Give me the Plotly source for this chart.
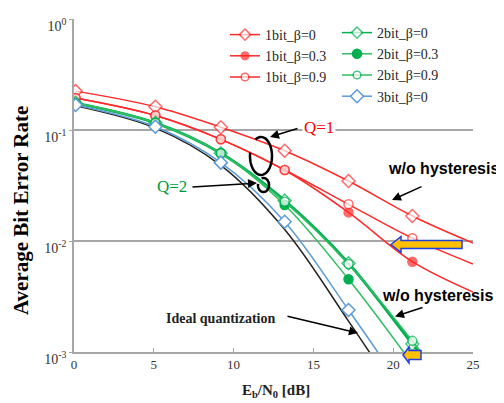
import math
import plotly.graph_objects as go

# ---------------- data ----------------
ebn0 = [0.1, 5.1, 9.2, 13.2, 17.2, 21.2]
ebn0_red = [0.1, 5.1, 9.2, 13.2, 17.2, 21.2, 25.0]
ebn0_grn = [0.1, 5.1, 9.2, 13.2, 17.2, 21.2, 22.0]

ber_1bit_b0 = [0.224, 0.162, 0.106, 0.0651, 0.0347, 0.0168, 0.0096]
ber_1bit_b03 = [0.194, 0.135, 0.0824, 0.0436, 0.0181, 0.00651, 0.00347]
ber_1bit_b09 = [0.194, 0.135, 0.0824, 0.0436, 0.0214, 0.0106, 0.0062]
ber_2bit_b0 = [0.175, 0.116, 0.0617, 0.0231, 0.0063, 0.00118, 0.00085]
ber_2bit_b03 = [0.175, 0.116, 0.0617, 0.0211, 0.00452, 0.00078]
ber_2bit_b09 = [0.175, 0.116, 0.0617, 0.0226, 0.0062, 0.00126, 0.0009]
ber_3bit_b0 = [0.168, 0.107, 0.0508, 0.0149, 0.00239, 0.00035]
ber_ideal = [0.165, 0.104, 0.048, 0.0127, 0.0019, 0.00026]

ytick_vals = [1, 0.1, 0.01, 0.001]
ytick_text = ["10<sup>0</sup>", "10<sup>-1</sup>", "10<sup>-2</sup>", "10<sup>-3</sup>"]
xtick_vals = [0, 5, 10, 15, 20, 25]

# ---------------- layout helpers ----------------
OFF = 8  # default body margin of the html page
W, H = 504 - OFF, 403 - OFF
L, R, T, B = 74 - OFF, 31, 19 - OFF, 51
PW, PH = W - L - R, H - T - B


def px(x):
    return (x - OFF - L) / PW


def py(y):
    return (H - B - (y - OFF)) / PH


RED = "#FF2A2A"
GRN = "#00B050"
GRN2 = "#2EBE62"
BLU = "#5B9BD5"
SERIF = "Liberation Serif, Times New Roman, serif"
SANS = "Liberation Sans, Arial, sans-serif"


def msizes(n, k, s):
    return [s] * k + [0] * (n - k)


fig = go.Figure()

fig.add_trace(go.Scatter(x=ebn0, y=ber_ideal, mode="lines", line=dict(color="#222222", width=1.5, shape="spline"),
                         showlegend=False, hoverinfo="skip"))

# 1 bit
fig.add_trace(go.Scatter(x=ebn0_red, y=ber_1bit_b0, name="1bit_β=0", mode="lines+markers", legend="legend",
                         line=dict(color=RED, width=1.5, shape="spline"),
                         marker=dict(symbol="diamond", size=msizes(7, 6, 10), color="white",
                                     line=dict(color=RED, width=1.5))))
fig.add_trace(go.Scatter(x=ebn0_red, y=ber_1bit_b03, name="1bit_β=0.3", mode="lines+markers", legend="legend",
                         line=dict(color=RED, width=1.5, shape="spline"),
                         marker=dict(symbol="circle", size=msizes(7, 6, 9), color=RED,
                                     line=dict(color=RED, width=1.5))))
fig.add_trace(go.Scatter(x=ebn0_red, y=ber_1bit_b09, name="1bit_β=0.9", mode="lines+markers", legend="legend",
                         line=dict(color=RED, width=1.5, shape="spline"),
                         marker=dict(symbol="circle", size=msizes(7, 6, 9), color="white",
                                     line=dict(color=RED, width=1.5))))
# 2 bit (thick "w/o hysteresis" curve underneath)
fig.add_trace(go.Scatter(x=ebn0_grn, y=ber_2bit_b0, mode="lines", showlegend=False, hoverinfo="skip",
                         line=dict(color=GRN, width=2.8, shape="spline")))
fig.add_trace(go.Scatter(x=ebn0_grn, y=ber_2bit_b0, name="2bit_β=0", mode="lines+markers", legend="legend2",
                         line=dict(color=GRN, width=1.5, shape="spline"),
                         marker=dict(symbol="diamond", size=msizes(7, 6, 10), color="white",
                                     line=dict(color=GRN, width=1.5))))
fig.add_trace(go.Scatter(x=ebn0, y=ber_2bit_b03, name="2bit_β=0.3", mode="lines+markers", legend="legend2",
                         line=dict(color=GRN2, width=1.5, shape="spline"),
                         marker=dict(symbol="circle", size=9, color=GRN, line=dict(color=GRN, width=1.5))))
fig.add_trace(go.Scatter(x=ebn0_grn, y=ber_2bit_b09, name="2bit_β=0.9", mode="lines+markers", legend="legend2",
                         line=dict(color=GRN2, width=1.5, shape="spline"),
                         marker=dict(symbol="circle", size=msizes(7, 6, 9), color="white",
                                     line=dict(color=GRN, width=1.5))))
# 3 bit
fig.add_trace(go.Scatter(x=ebn0, y=ber_3bit_b0, name="3bit_β=0", mode="lines+markers", legend="legend2",
                         line=dict(color=BLU, width=1.5, shape="spline"),
                         marker=dict(symbol="diamond", size=10, color="white", line=dict(color=BLU, width=1.5))))

legend_common = dict(font=dict(family=SERIF, size=14, color="#262626"), bgcolor="rgba(0,0,0,0)",
                     itemwidth=30, tracegroupgap=0, xanchor="left", yanchor="top")

fig.update_layout(
    width=W, height=H,
    margin=dict(l=L, r=R, t=T, b=B, autoexpand=False),
    paper_bgcolor="white", plot_bgcolor="white",
    legend=dict(x=px(225), y=py(19), **legend_common),
    legend2=dict(x=px(337), y=py(17), **legend_common),
    xaxis=dict(range=[0, 25], tickvals=xtick_vals, showgrid=False, zeroline=False, automargin=False,
               showline=True, linecolor="#A6A6A6", linewidth=1.5,
               ticks="inside", ticklen=4, tickcolor="#A6A6A6", tickwidth=1,
               tickfont=dict(family=SERIF, size=13, color="#333333")),
    yaxis=dict(type="log", range=[-3, 0], tickvals=ytick_vals, ticktext=ytick_text, automargin=False,
               showgrid=True, gridcolor="#A6A6A6", gridwidth=1.5, zeroline=False,
               showline=True, linecolor="#A6A6A6", linewidth=1.5,
               ticks="outside", ticklen=3, tickcolor="#A6A6A6", ticklabelshift=7,
               tickfont=dict(family=SERIF, size=14, color="#333333")),
    showlegend=True,
)

# ---------------- ellipses (open arcs) ----------------
def arc_path(cx, cy, rx, ry, a0, a1, n=60):
    pts = []
    for i in range(n + 1):
        a = math.radians(a0 + (a1 - a0) * i / n)
        x = cx + rx * math.cos(a)
        y = cy - ry * math.sin(a)
        pts.append((px(x), py(y)))
    return "M " + " L ".join(f"{a:.5f},{b:.5f}" for a, b in pts)


shapes = [
    dict(type="path", xref="paper", yref="paper", path=arc_path(261, 156, 11, 19, 170, 480),
         line=dict(color="black", width=2.5)),
    dict(type="path", xref="paper", yref="paper", path=arc_path(263.5, 185, 5.5, 7, 170, 470),
         line=dict(color="black", width=2.5)),
]


def block_arrow(tip_x, tip_y, base_x, right_x, head_half, body_half):
    pts = [(tip_x, tip_y), (base_x, tip_y - head_half), (base_x, tip_y - body_half),
           (right_x, tip_y - body_half), (right_x, tip_y + body_half), (base_x, tip_y + body_half),
           (base_x, tip_y + head_half)]
    return "M " + " L ".join(f"{px(a):.5f},{py(b):.5f}" for a, b in pts) + " Z"


shapes.append(dict(type="path", xref="paper", yref="paper", path=block_arrow(391, 244.5, 401, 462, 8, 4),
                   fillcolor="#FFC000", line=dict(color="#1F3FE0", width=1.5)))
shapes.append(dict(type="path", xref="paper", yref="paper", path=block_arrow(403, 355, 409, 421, 8, 4.5),
                   fillcolor="#FFC000", line=dict(color="#1F3FE0", width=1.5)))
fig.update_layout(shapes=shapes)

# ---------------- annotations ----------------
ann = []


def arrow(hx, hy, tx, ty):
    ann.append(dict(xref="paper", yref="paper", x=px(hx), y=py(hy), ax=tx - hx, ay=ty - hy,
                    text="", showarrow=True, arrowhead=2, arrowsize=1.2, arrowwidth=1.5,
                    arrowcolor="black"))


def label(x, y, text, font, bg=None):
    d = dict(xref="paper", yref="paper", x=px(x), y=py(y), text=text, showarrow=False,
             font=font, xanchor="center", yanchor="middle")
    if bg:
        d["bgcolor"] = bg
    ann.append(d)


label(319, 127, "Q=1", dict(family=SERIF, size=17, color="#FF0000"), bg="white")
label(172, 187, "Q=2", dict(family=SERIF, size=17, color="#009A3E"))
arrow(270, 137, 299, 128)
arrow(257, 183, 191, 187)
label(443, 169, "<b>w/o hysteresis</b>", dict(family=SANS, size=16, color="black"))
arrow(392, 200, 423, 186)
label(437, 295, "<b>w/o hysteresis</b>", dict(family=SANS, size=16, color="black"))
arrow(395, 316.5, 424, 307)
label(221, 318.5, "<b>Ideal quantization</b>", dict(family=SERIF, size=14, color="#222222"))
arrow(358, 333, 286, 316)

label(21, 211, "<b>Average Bit Error Rate</b>", dict(family=SERIF, size=21, color="black"))
ann[-1]["textangle"] = -90
label(276, 391, "<b>E<sub>b</sub>/N<sub>0</sub> [dB]</b>", dict(family=SERIF, size=15, color="#222222"))

fig.update_layout(annotations=ann)

fig.write_html("out.html")
